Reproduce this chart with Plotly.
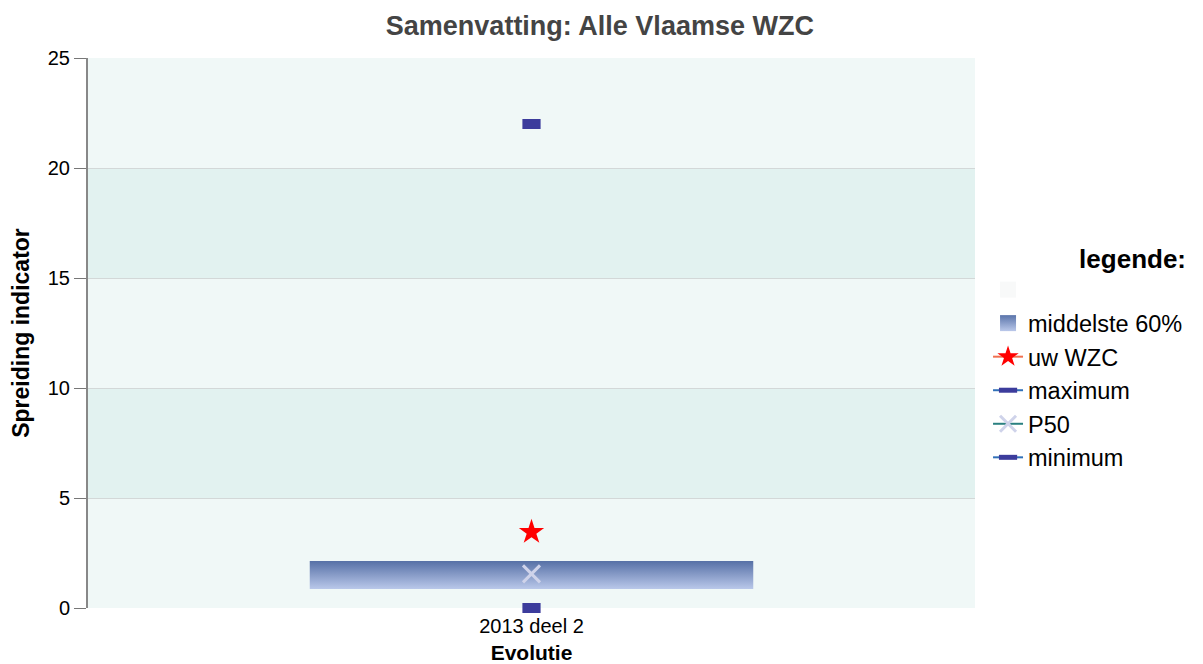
import plotly.graph_objects as go

categories = ["2013 deel 2"]
p20 = [0.86]
p80 = [2.14]
uw_wzc = [3.45]
maximum = [22]
p50 = [1.55]
minimum = [0]
y_ticks = [0, 5, 10, 15, 20, 25]

xpos = list(range(len(categories)))
bar_w = 0.5
half_w = bar_w / 2

fig = go.Figure()

# blank legend entry (background series)
fig.add_trace(go.Scatter(x=[None], y=[None], mode="markers", name=" ",
                         marker=dict(symbol="square", size=22, color="#f8f9f9"),
                         showlegend=True, hoverinfo="skip"))

# legend entry for the middle 60% box
fig.add_trace(go.Scatter(x=[None], y=[None], mode="markers", name="middelste 60%",
                         legendgroup="mid",
                         marker=dict(symbol="square", size=22, color="#5a74aa",
                                     gradient=dict(type="vertical", color="#bac8ea")),
                         hoverinfo="skip"))
# middle 60%: gradient-filled box
for i, xc in enumerate(xpos):
    fig.add_trace(go.Scatter(
        x=[xc - half_w, xc + half_w, xc + half_w, xc - half_w, xc - half_w],
        y=[p20[i], p20[i], p80[i], p80[i], p20[i]],
        fill="toself", mode="lines", line=dict(width=0), legendgroup="mid",
        fillgradient=dict(type="vertical",
                          colorscale=[[0, "#bac8ea"], [1, "#5670a6"]]),
        showlegend=False, hoverinfo="skip"))

fig.add_trace(go.Scatter(x=xpos, y=uw_wzc, mode="lines+markers", name="uw WZC",
                         line=dict(color="#f07050", width=2),
                         marker=dict(symbol="star", size=19, color="#ff0000"),
                         cliponaxis=False))
fig.add_trace(go.Scatter(x=xpos, y=maximum, mode="lines+markers", name="maximum",
                         line=dict(color="#3070b8", width=2),
                         marker=dict(symbol="line-ew", size=13,
                                     line=dict(width=10, color="#3c3c9c")),
                         cliponaxis=False))
fig.add_trace(go.Scatter(x=xpos, y=p50, mode="lines+markers", name="P50",
                         line=dict(color="#2a8080", width=2),
                         marker=dict(symbol="x-thin", size=17,
                                     line=dict(width=3, color="#cfd3ea")),
                         cliponaxis=False))
fig.add_trace(go.Scatter(x=xpos, y=minimum, mode="lines+markers", name="minimum",
                         line=dict(color="#3070b8", width=2),
                         marker=dict(symbol="line-ew", size=13,
                                     line=dict(width=10, color="#3c3c9c")),
                         cliponaxis=False))

# alternating background bands
shapes = []
for k in range(len(y_ticks) - 1):
    if k % 2 == 1:
        shapes.append(dict(type="rect", xref="paper", yref="y", x0=0, x1=1,
                           y0=y_ticks[k], y1=y_ticks[k + 1],
                           fillcolor="#e2f2f0", line=dict(width=0), layer="below"))

fig.update_layout(
    width=1203, height=664,
    margin=dict(l=80, r=236, t=50, b=64),
    paper_bgcolor="white", plot_bgcolor="#f0f8f7",
    font=dict(family="Liberation Sans, Arial, sans-serif", size=20, color="#000"),
    title=dict(text="<b>Samenvatting: Alle Vlaamse WZC</b>", x=0.492, xanchor="center",
               y=0.974, yanchor="middle",
               font=dict(size=27, color="#444444")),
    shapes=shapes,
    showlegend=True,
    legend=dict(x=1.0147, xanchor="left", y=0.68, yanchor="top",
                title=dict(text="<b>legende:</b>", side="top right",
                           font=dict(size=26)),
                font=dict(size=23.5), tracegroupgap=0, itemwidth=30,
                traceorder="normal",
                bgcolor="rgba(0,0,0,0)"),
    xaxis=dict(range=[-0.5, 0.5], tickvals=xpos, ticktext=categories,
               showgrid=False, zeroline=False, showline=False, automargin=False,
               ticks="", ticklabelstandoff=4,
               title=dict(text="<b>Evolutie</b>", font=dict(size=21),
                          standoff=9),
               tickfont=dict(size=20)),
    yaxis=dict(range=[0, 25], tickvals=y_ticks, showgrid=True, automargin=False,
               gridcolor="#d3d8d8", gridwidth=1, zeroline=False,
               showline=True, linecolor="#888888", linewidth=2,
               ticks="outside", ticklen=12, tickcolor="#777777",
               title=dict(text="<b>Spreiding indicator</b>", font=dict(size=23),
                          standoff=12),
               tickfont=dict(size=20)),
)

fig.write_html("out.html")
